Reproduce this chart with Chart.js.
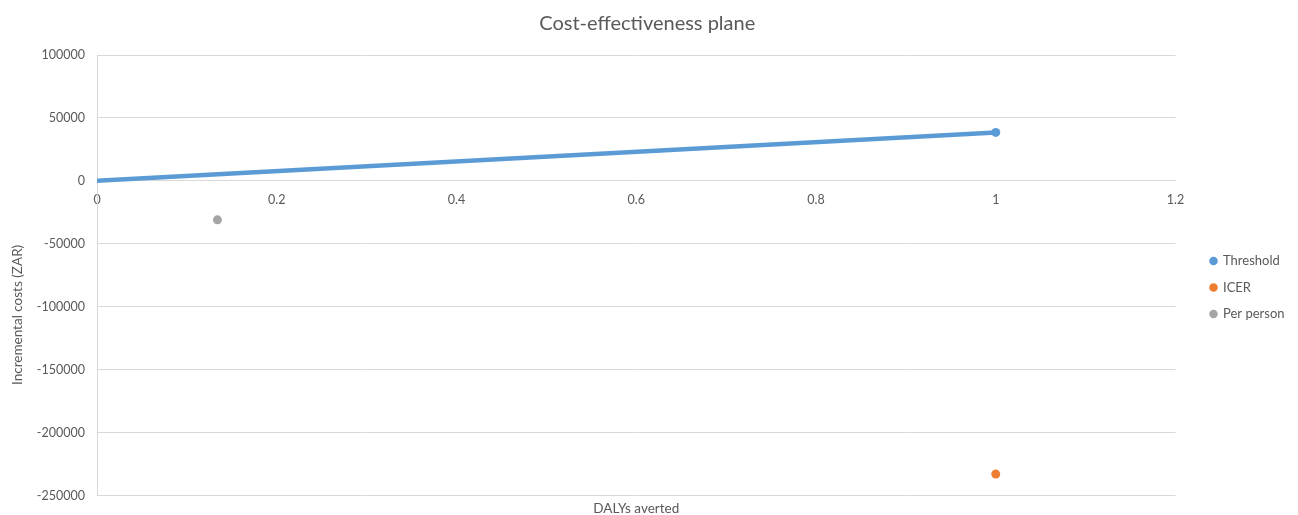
<!DOCTYPE html>
<html>
<head>
<meta charset="utf-8">
<script src="https://cdn.jsdelivr.net/npm/chart.js@4/dist/chart.umd.min.js"></script>
<style>
  html, body { margin: 0; padding: 0; background: #ffffff; }
  #wrap { width: 1298px; height: 515px; position: relative; }
</style>
</head>
<body>
<div id="wrap"><canvas id="plane"></canvas></div>
<script>
// Cost-effectiveness plane: DALYs averted vs incremental costs (ZAR)
const seriesNames = ['Threshold', 'ICER', 'Per person'];
const seriesColors = ['#5b9bd5', '#ed7d31', '#a5a5a5'];

const thresholdX = [0, 1];
const thresholdY = [0, 38500];
const icerX = [1];
const icerY = [-233000];
const perPersonX = [0.134];
const perPersonY = [-31000];

const xTicks = [0, 0.2, 0.4, 0.6, 0.8, 1, 1.2];
const yTicks = [100000, 50000, 0, -50000, -100000, -150000, -200000, -250000];

const yAxisTitle = 'Incremental costs (ZAR)';

const toPoints = (xs, ys) => xs.map((x, i) => ({ x: x, y: ys[i] }));

const textColor = '#595959';
const gridColor = '#d9d9d9';
const fontFamily = 'Lato, "Open Sans", sans-serif';

// Vertical axis caption, placed a little below the middle of the plot area
const yCaption = {
  id: 'yCaption',
  afterDraw(chart) {
    const { ctx, chartArea } = chart;
    const cy = chartArea.top + (chartArea.bottom - chartArea.top) * 0.59;
    ctx.save();
    ctx.translate(18, cy);
    ctx.rotate(-Math.PI / 2);
    ctx.fillStyle = textColor;
    ctx.font = '13.5px ' + fontFamily;
    ctx.textAlign = 'center';
    ctx.textBaseline = 'middle';
    ctx.fillText(yAxisTitle, 0, 0);
    ctx.restore();
  }
};

new Chart(document.getElementById('plane'), {
  type: 'scatter',
  data: {
    datasets: [
      {
        label: seriesNames[0],
        data: toPoints(thresholdX, thresholdY),
        showLine: true,
        borderColor: seriesColors[0],
        backgroundColor: seriesColors[0],
        borderWidth: 4.5,
        pointRadius: [0, 4.5],
        pointBorderWidth: 0,
        pointHoverRadius: 5
      },
      {
        label: seriesNames[1],
        data: toPoints(icerX, icerY),
        borderColor: seriesColors[1],
        backgroundColor: seriesColors[1],
        pointRadius: 4.5,
        pointBorderWidth: 0
      },
      {
        label: seriesNames[2],
        data: toPoints(perPersonX, perPersonY),
        borderColor: seriesColors[2],
        backgroundColor: seriesColors[2],
        pointRadius: 4.5,
        pointBorderWidth: 0
      }
    ]
  },
  plugins: [yCaption],
  options: {
    responsive: true,
    maintainAspectRatio: false,
    animation: false,
    layout: { padding: { left: 0, right: 3.5, top: 0, bottom: 0 } },
    plugins: {
      title: {
        display: true,
        text: 'Cost-effectiveness plane',
        color: textColor,
        font: { family: fontFamily, size: 20, weight: 'normal', lineHeight: 1.2 },
        padding: { top: 12, bottom: 19 }
      },
      legend: {
        position: 'right',
        align: 'start',
        fullSize: false,
        title: {
          display: true,
          text: ' ',
          font: { family: fontFamily, size: 12, lineHeight: 1.2 },
          padding: { top: 171.6, bottom: 0 }
        },
        labels: {
          usePointStyle: true,
          pointStyle: 'circle',
          boxWidth: 6,
          boxHeight: 6,
          padding: 13.5,
          color: textColor,
          font: { family: fontFamily, size: 13 },
          generateLabels: (chart) => Chart.defaults.plugins.legend.labels.generateLabels(chart)
            .map(item => Object.assign(item, { lineWidth: 0, strokeStyle: item.fillStyle, pointStyle: 'circle' }))
        }
      },
      tooltip: { enabled: false }
    },
    scales: {
      x: {
        type: 'linear',
        position: { y: 0 },
        min: 0,
        max: 1.2,
        afterBuildTicks: (scale) => { scale.ticks = xTicks.map(v => ({ value: v })); },
        grid: { display: false, drawTicks: false },
        border: { display: true, color: gridColor, width: 1 },
        ticks: {
          color: textColor,
          font: { family: fontFamily, size: 12.5 },
          padding: 12,
          maxRotation: 0,
          callback: (v) => String(v)
        }
      },
      xTitle: {
        type: 'linear',
        position: 'bottom',
        min: 0,
        max: 1.2,
        grid: { display: false, drawTicks: false },
        border: { display: false },
        ticks: { display: false },
        title: {
          display: true,
          text: 'DALYs averted',
          color: textColor,
          font: { family: fontFamily, size: 13.5, lineHeight: 1 },
          padding: { top: 6, bottom: 0 }
        }
      },
      y: {
        type: 'linear',
        position: 'left',
        min: -250000,
        max: 100000,
        afterBuildTicks: (scale) => { scale.ticks = yTicks.map(v => ({ value: v })); },
        afterFit: (scale) => { scale.width = 97; },
        grid: { color: gridColor, lineWidth: 1, drawTicks: false },
        border: { display: true, color: gridColor, width: 1 },
        ticks: {
          color: textColor,
          font: { family: fontFamily, size: 12.5 },
          padding: 12,
          callback: (v) => String(v)
        }
      },
      legendGap: {
        type: 'linear',
        position: 'right',
        display: true,
        grid: { display: false, drawTicks: false },
        border: { display: false },
        ticks: { display: false },
        afterFit: (scale) => { scale.width = 21.5; }
      }
    }
  }
});
</script>
</body>
</html>
